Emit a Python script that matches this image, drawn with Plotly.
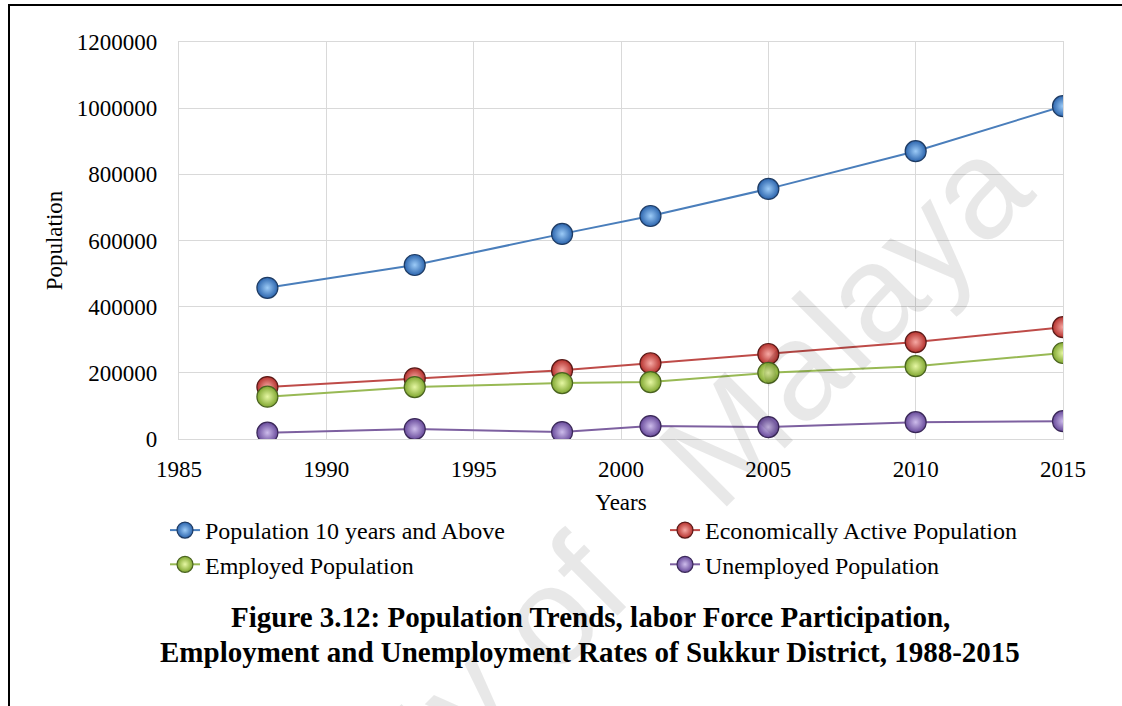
import plotly.graph_objects as go

years = [1988, 1993, 1998, 2001, 2005, 2010, 2015]
pop_10_above = [457000, 526000, 620000, 674000, 756000, 870000, 1006000]
econ_active = [157000, 183000, 208000, 229000, 257000, 293000, 338000]
employed = [128000, 157000, 169000, 172000, 200000, 220000, 260000]
unemployed = [19000, 30000, 21000, 39000, 36000, 51000, 54000]

series_names = ["Population 10 years and Above", "Economically Active Population",
                "Employed Population", "Unemployed Population"]
series_values = [pop_10_above, econ_active, employed, unemployed]
line_colors = ["#4A7EBB", "#BE4B48", "#98B954", "#7D60A0"]
edge_colors = ["#2B64AD", "#B5302C", "#7FA62F", "#67499A"]
center_colors = ["#9CCBF7", "#F6A9A4", "#E6F7A3", "#CDBCEB"]
outline_colors = ["#1E3B63", "#5A1917", "#4A6320", "#3A2858"]

x_ticks = [1985, 1990, 1995, 2000, 2005, 2010, 2015]
y_ticks = [0, 200000, 400000, 600000, 800000, 1000000, 1200000]

title_line1 = "Figure 3.12: Population Trends, labor Force Participation,"
title_line2 = "Employment and Unemployment Rates of Sukkur District, 1988-2015"
watermark = "University of" + "\u00a0" * 3 + "Malaya"

FONT = "Liberation Serif, Times New Roman, serif"

fig = go.Figure()
for name, vals, lc, ec, cc, oc in zip(series_names, series_values, line_colors,
                                       edge_colors, center_colors, outline_colors):
    fig.add_trace(go.Scatter(
        x=years, y=vals, name=name, mode="lines+markers",
        line=dict(color=lc, width=2),
        marker=dict(size=21, color=ec,
                    gradient=dict(type="radial", color=cc),
                    line=dict(color=oc, width=1.2)),
    ))

W, H = 1122, 706
L, R, T, B = 179, 1063, 42, 439

def px_x(p):
    return (p - L) / (R - L)

def px_y(p):
    return (B - p) / (B - T)

fig.update_layout(
    width=W, height=H,
    margin=dict(l=L, r=W - R, t=T, b=H - B, autoexpand=False),
    paper_bgcolor="white", plot_bgcolor="white",
    font=dict(family=FONT, size=23, color="black"),
    showlegend=True,
    legend=dict(orientation="h", x=px_x(165), y=px_y(508),
                xanchor="left", yanchor="top",
                entrywidth=455, entrywidthmode="pixels",
                font=dict(family=FONT, size=24, color="black"),
                bgcolor="rgba(0,0,0,0)", traceorder="normal"),
)

fig.update_xaxes(
    range=[1985, 2015], tickmode="array", tickvals=x_ticks,
    ticktext=[str(v) for v in x_ticks],
    showgrid=True, gridcolor="#D9D9D9", gridwidth=1.3,
    showline=True, linecolor="#D9D9D9", linewidth=1.3, mirror=True,
    zeroline=False, ticks="", ticklabelstandoff=9,
    tickfont=dict(family=FONT, size=23, color="black"),
    title=dict(text="Years", standoff=13, font=dict(family=FONT, size=23, color="black")),
    automargin=False,
)
fig.update_yaxes(
    range=[0, 1200000], tickmode="array", tickvals=y_ticks,
    ticktext=[str(v) for v in y_ticks],
    showgrid=True, gridcolor="#D9D9D9", gridwidth=1.3,
    showline=True, linecolor="#D9D9D9", linewidth=1.3, mirror=True,
    zeroline=False, ticks="", ticklabelstandoff=16,
    tickfont=dict(family=FONT, size=23, color="black"),
    title=dict(text="Population", standoff=7, font=dict(family=FONT, size=23, color="black")),
    automargin=False,
)

# caption (two lines)
for txt, yc in [(title_line1, 617), (title_line2, 652)]:
    fig.add_annotation(text="<b>" + txt + "</b>", xref="paper", yref="paper",
                       x=px_x(590), y=px_y(yc), xanchor="center", yanchor="middle",
                       showarrow=False,
                       font=dict(family=FONT, size=29, color="black"))

# outer frame (top and left edges visible)
fig.add_shape(type="rect", xref="paper", yref="paper",
              x0=px_x(9), x1=px_x(1140), y0=px_y(730), y1=px_y(5),
              line=dict(color="black", width=2), fillcolor="rgba(0,0,0,0)", layer="above")

# watermark
fig.add_annotation(text=watermark, xref="paper", yref="paper",
                   x=px_x(530), y=px_y(634), xanchor="center", yanchor="middle",
                   showarrow=False, textangle=-45,
                   font=dict(family="Liberation Sans, Arial, sans-serif", size=140,
                             color="rgba(0,0,0,0.09)"))

fig.write_html("out.html")
